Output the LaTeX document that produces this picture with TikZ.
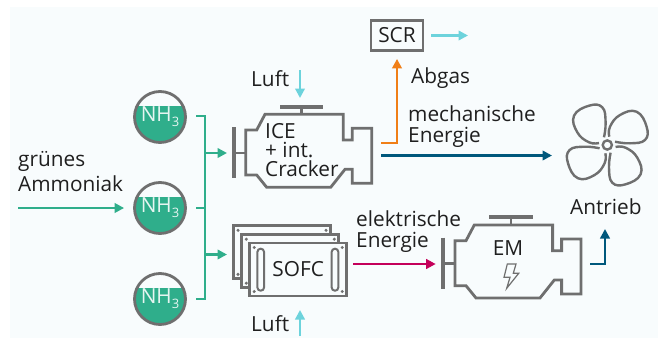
\documentclass[tikz,border=0pt]{standalone}
\usepackage{fontspec}
\setmainfont{Open Sans}
\usepackage{tikz}
\usetikzlibrary{arrows.meta}
\definecolor{hgrund}{HTML}{F8FCFD}
\definecolor{grau}{HTML}{6F6F6F}
\definecolor{gruen}{HTML}{2FAE8B}
\definecolor{tuerkis}{HTML}{6DD3DC}
\definecolor{orange}{HTML}{F07F17}
\definecolor{blau}{HTML}{00587C}
\definecolor{rot}{HTML}{C4005A}
\newcommand{\nhdrei}{\raisebox{-4.5pt}{NH\raisebox{-5pt}{\fontsize{13}{13}\selectfont 3}}}
\tikzset{
    txt/.style={font=\fontsize{20.8}{21}\selectfont, text=black!88, inner sep=0pt},
    pfeil/.style={line width=2.7pt, -{Triangle[length=9.5pt,width=9.5pt]}},
    tank/.style={circle, draw=grau, line width=2.8pt, minimum size=51pt, inner sep=0pt, txt, text=white!88!gruen,
        path picture={\fill [gruen] (path picture bounding box.center) ++(-30,-11) rectangle ++(60,42);}},
    platte/.style={draw=grau, fill=hgrund, line width=2.8pt, minimum width=97pt, minimum height=53pt, inner sep=0pt, txt,
        path picture={\foreach \dx/\dy in {-44/-22, 44/-22, 44/22, -44/22}
            \fill [grau] (path picture bounding box.center) ++(\dx,\dy) circle (1.7);}},
    pics/motor/.style={code={
        \draw [grau, line width=2.8pt] (11.7,-23) -- (22.7,-23) -- (31,-38.7) -- (109.3,-38.7) -- (109.3,-13) -- (118.3,-13)
            -- (118.3,-24.7) -- (137.7,-24.7) -- (137.7,30.3) -- (118.3,30.3) -- (118.3,16.3) -- (111,16.3)
            -- (96.7,34.3) -- (32.7,34.3) -- (22.7,22) -- (11.7,22) -- cycle;
        \draw [grau, line width=4pt] (0,-26) -- (0,25);
        \draw [grau, line width=2.8pt] (0,0) -- (11.7,0);
        \draw [grau, line width=4pt] (46,-46.3) -- (89.3,-46.3);
        \draw [grau, line width=2.8pt] (67.7,-46.3) -- (67.7,-38.7);
    }},
}
\begin{document}
\begin{tikzpicture}[x=1pt, y=-1pt]
    \useasboundingbox (0,0) rectangle (658,340);
    \fill [hgrund] (10,7) rectangle (658,338);

    % Tanks
    \node [tank] (nh1) at (160,117) {\nhdrei};
    \node [tank] (nh2) at (160,208) {\nhdrei};
    \node [tank] (nh3) at (160,299) {\nhdrei};
    \node [txt, anchor=base west, align=left] (gruenes) at (18,191) {gr\"unes\\[4pt]Ammoniak};
    \coordinate (quelle) at (18,208);
    \draw [pfeil, gruen, shorten >=9pt] (quelle) -- (nh2.west);

    % Sammelleitung
    \coordinate (busOben) at (205,116);
    \coordinate (busMitte) at (205,208);
    \coordinate (busUnten) at (205,299);
    \coordinate (abzweigIce) at (205,153);
    \coordinate (abzweigSofc) at (205,254.5);
    \coordinate (iceEin) at (227,153);
    \coordinate (sofcEin) at (227,254.5);
    \draw [gruen, line width=2.7pt, shorten <=9.5pt, shorten >=9.5pt] (nh1.east |- busOben) -- (busOben) -- (busUnten) -- (nh3.east);
    \draw [gruen, line width=2.7pt, shorten <=9.5pt] (nh2.east) -- (busMitte);
    \draw [pfeil, gruen] (abzweigIce) -- (iceEin);
    \draw [pfeil, gruen] (abzweigSofc) -- (sofcEin);

    % ICE
    \pic at (234,153) {motor};
    \node [txt, anchor=base west] (ice) at (265,138) {ICE};
    \node [txt, anchor=base west] (plus) at (265,157) {+ int.};
    \node [txt, anchor=base west] (cracker) at (265,176) {Cracker};
    \node [txt, anchor=base west] (luftOben) at (251,86) {Luft};
    \coordinate (luftObenA) at (300,70);
    \coordinate (luftObenB) at (300,98);
    \draw [pfeil, tuerkis, line width=2.2pt] (luftObenA) -- (luftObenB);

    % SCR
    \node [draw=grau, line width=2.8pt, minimum width=52pt, minimum height=30pt, inner sep=0pt, txt] (scr) at (397,35.5) {SCR};
    \coordinate (scrAus) at (468,35.5);
    \coordinate (iceAbgas) at (381,143);
    \coordinate (iceWelle) at (381,155.5);
    \draw [pfeil, tuerkis, line width=2.2pt, shorten <=7pt] (scr.east) -- (scrAus);
    \draw [pfeil, orange, shorten >=7pt] (iceAbgas) -| (scr.south);
    \node [txt, anchor=base west] (abgas) at (411,83) {Abgas};
    \node [txt, anchor=base west, align=left] (mech) at (408,142) {mechanische\\Energie};

    % Propeller
    \coordinate (nabe) at (607.3,145);
    \coordinate (wellePropeller) at (552,155.5);
    \draw [pfeil, blau] (iceWelle) -- (wellePropeller);
    \draw [grau, line width=2.4pt] (nabe) circle (4.6);
    \foreach \w in {0,90,180,270}
        \draw [grau, line width=2.4pt, rotate around={\w:(nabe)}, shift={(nabe)}] plot [smooth, tension=0.75] coordinates
            {(2,-8.3) (2.7,-18.3) (12.7,-30) (29.3,-33.3) (39.3,-18.3) (37.7,-5) (22.7,-1.7) (7.7,-3.3)};
    \node [txt, anchor=base west] (antrieb) at (570,214) {Antrieb};

    % SOFC
    \node [platte] (sofcA) at (282,252.3) {};
    \node [platte] (sofcB) at (290.3,261.2) {};
    \node [platte] (sofc) at (298.2,269.5) {SOFC};
    \draw [grau, line width=2pt, rounded corners=3.2pt] (257.4,248.7) rectangle (264,290.7);
    \draw [grau, line width=2pt, rounded corners=3.2pt] (331.7,248.7) rectangle (338.3,290.7);
    \node [txt, anchor=base west] (luftUnten) at (251,331) {Luft};
    \coordinate (luftUntenA) at (300,336);
    \coordinate (luftUntenB) at (300,310);
    \draw [pfeil, tuerkis, line width=2.2pt] (luftUntenA) -- (luftUntenB);

    % EM
    \pic at (443.3,263.7) {motor};
    \node [txt] (em) at (508,248) {EM};
    \draw [grau, line width=1.2pt] (507.3,264) -- (516,264) -- (513.3,273.3) -- (518.7,273.3) -- (506.7,288.3) -- (510,277.3) -- (504,277.3) -- cycle;
    \node [txt, anchor=base west, align=left] (elektrisch) at (356,247) {elektrische\\Energie};
    \coordinate (sofcAus) at (353,264);
    \coordinate (emEin) at (435.7,264);
    \draw [pfeil, rot] (sofcAus) -- (emEin);
    \coordinate (emAus) at (590,264);
    \coordinate (antriebEin) at (605,229);
    \draw [pfeil, blau] (emAus) -| (antriebEin);
\end{tikzpicture}
\end{document}
